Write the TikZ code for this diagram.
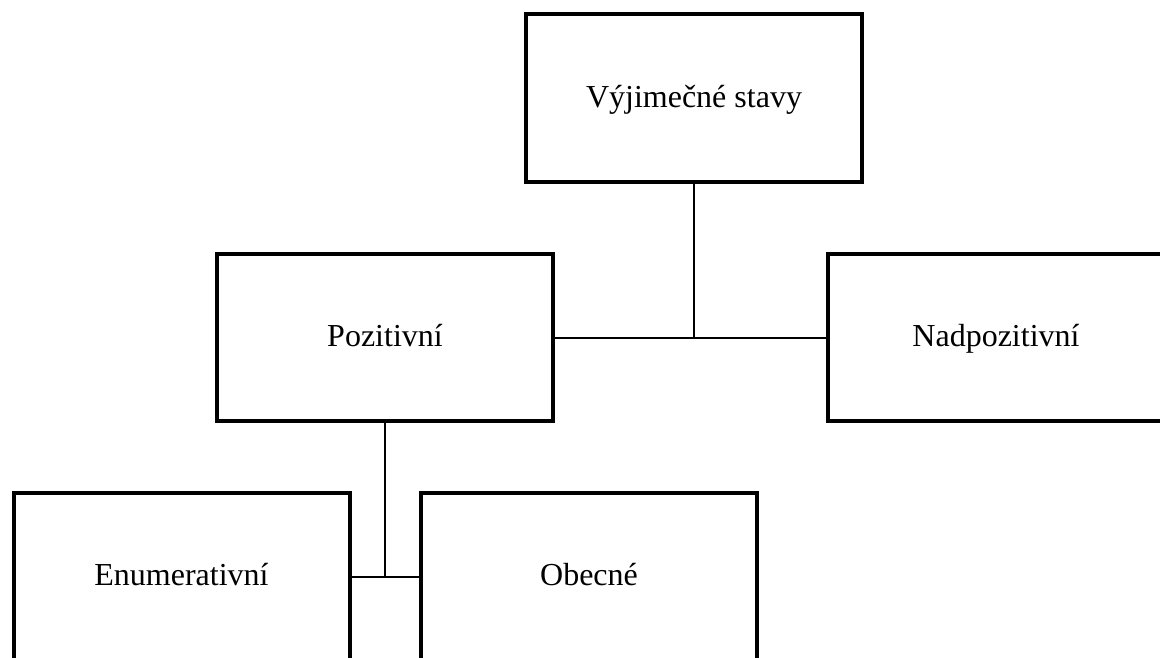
\documentclass[tikz,border=0pt]{standalone}
\usepackage{fontspec}
\setmainfont{Liberation Serif}
\begin{document}
\begin{tikzpicture}[x=0.75pt,y=-0.75pt,
  box/.style={draw=black,line width=3pt,fill=white,inner sep=0pt,
    minimum width=252pt,minimum height=125.5pt,
    text height=19.2pt,text depth=5pt,font=\fontsize{24}{28}\selectfont},
  link/.style={draw=black,line width=1.5pt}]
  \useasboundingbox (0,0) rectangle (1160,657);
  \clip (0,0) rectangle (1160,657);

  % boxes
  \node[box] (vs)   at (694,98)    {Výjimečné stavy};
  \node[box] (poz)  at (385,337.5) {Pozitivní};
  \node[box] (nad)  at (996,337.5) {Nadpozitivní};
  \node[box] (enum) at (181.5,576.5) {Enumerativní};
  \node[box] (obec) at (589,576.5) {Obecné};

  % connectors
  \coordinate (j1) at (vs.south |- poz.east);
  \coordinate (j2) at (poz.south |- enum.east);
  \draw[link] (vs.south) -- (j1);
  \draw[link] (poz.east) -- (nad.west);
  \draw[link] (poz.south) -- (j2);
  \draw[link] (enum.east) -- (obec.west);
\end{tikzpicture}
\end{document}
